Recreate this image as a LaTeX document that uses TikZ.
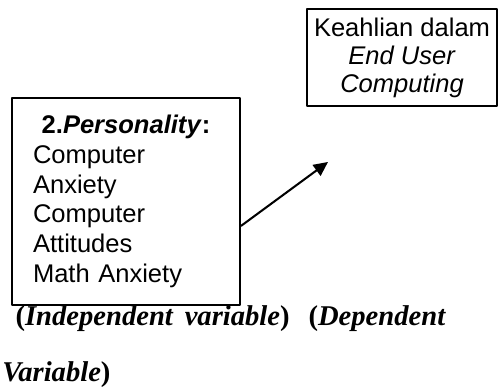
\documentclass[tikz,border=0pt]{standalone}
\usepackage{fontspec}
\setmainfont{Liberation Serif}
\newfontfamily\arialfont{Liberation Sans}
\usetikzlibrary{arrows.meta}
\tikzset{
	kotak/.style={draw,line width=1pt,inner ysep=0pt},
	ket/.style={font=\fontsize{14}{18}\selectfont\bfseries,inner sep=0pt,anchor=west}
}
\begin{document}
\begin{tikzpicture}[>={Triangle[length=7pt,width=6.5pt]},line join=round,line cap=round,font=\arialfont\fontsize{12.5}{14.5}\selectfont]
	\useasboundingbox (0,0) rectangle (8.6,6.725);
	\node[kotak,minimum width=3.165cm,minimum height=1.668cm,align=center,font=\arialfont\fontsize{12.5}{13.7}\selectfont] (keahlian) at (6.915,5.736) {Keahlian dalam\\\textit{End User}\\\textit{Computing}};
	\node[kotak,minimum height=3.561cm,text width=91pt,inner xsep=10.3pt,align=left] (personality) at (2.167,3.26) {\makebox[91pt]{\textbf{2.\textit{Personality}:}}\\Computer\\Anxiety\\Computer\\Attitudes\\Math Anxiety};
	\coordinate (tip) at (5.642,3.939);
	\draw[line width=1pt,->] (personality.-12.6)--(tip);
	\node[ket] (indep) at (0.26,1.25) {(\textit{Independent}\hspace{5.5pt}\textit{variable})};
	\node[ket] (dep) at (5.3,1.25) {(\textit{Dependent}};
	\node[ket] (depvar) at (0.034,0.29) {\textit{Variable})};
\end{tikzpicture}
\end{document}
